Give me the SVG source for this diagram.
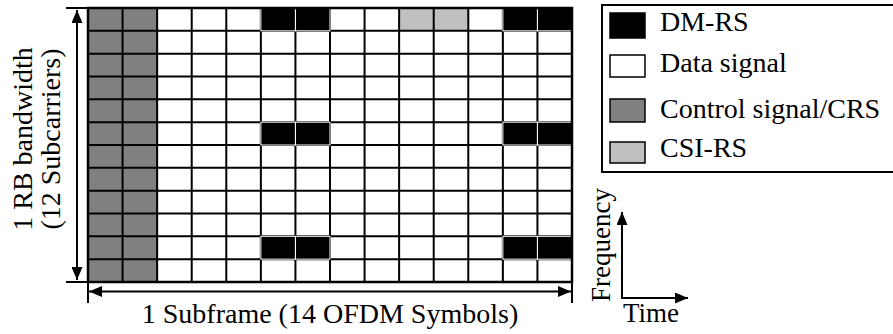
<svg xmlns="http://www.w3.org/2000/svg" width="893" height="334" viewBox="0 0 893 334">
<defs>
<style>
.ln{stroke:#000;stroke-width:2;fill:none}
.dm{fill:#000;stroke:#fff;stroke-width:1}
.ctl{fill:#808080}
.csi{fill:#c0c0c0}
</style>
<marker id="ah" markerUnits="userSpaceOnUse" markerWidth="13" markerHeight="11" refX="13" refY="5.5" orient="auto-start-reverse">
<path d="M0,0 L13,5.5 L0,11 z" fill="#000"/>
</marker>
</defs>
<rect width="893" height="334" fill="#fff"/>
<g id="grid">
<rect x="88" y="8" width="484" height="274" fill="#fff"/>
<rect class="ctl" x="88" y="8" width="69.14" height="274"/>
<rect class="csi" x="399.14" y="8" width="69.15" height="22.83"/>
<path class="ln" d="M122.57,8V282M157.14,8V282M191.71,8V282M226.29,8V282M260.86,8V282M295.43,8V282M330,8V282M364.57,8V282M399.14,8V282M433.71,8V282M468.29,8V282M502.86,8V282M537.43,8V282M88,30.83H572M88,53.67H572M88,76.5H572M88,99.33H572M88,122.17H572M88,145H572M88,167.83H572M88,190.67H572M88,213.5H572M88,236.33H572M88,259.17H572"/>
<rect class="dm" x="260.86" y="8" width="34.57" height="22.83"/>
<rect class="dm" x="295.43" y="8" width="34.57" height="22.83"/>
<rect class="dm" x="502.86" y="8" width="34.57" height="22.83"/>
<rect class="dm" x="537.43" y="8" width="34.57" height="22.83"/>
<rect class="dm" x="260.86" y="122.17" width="34.57" height="22.83"/>
<rect class="dm" x="295.43" y="122.17" width="34.57" height="22.83"/>
<rect class="dm" x="502.86" y="122.17" width="34.57" height="22.83"/>
<rect class="dm" x="537.43" y="122.17" width="34.57" height="22.83"/>
<rect class="dm" x="260.86" y="236.33" width="34.57" height="22.84"/>
<rect class="dm" x="295.43" y="236.33" width="34.57" height="22.84"/>
<rect class="dm" x="502.86" y="236.33" width="34.57" height="22.84"/>
<rect class="dm" x="537.43" y="236.33" width="34.57" height="22.84"/>
<rect x="88" y="8" width="484" height="274" fill="none" stroke="#000" stroke-width="2.5"/>
</g>
<g id="connectors">
<path class="ln" d="M66,8H88M66,282H88M88,282V303M572,282V303"/>
<path class="ln" d="M77,10V280" marker-start="url(#ah)" marker-end="url(#ah)"/>
<path class="ln" d="M89,291.5H571" marker-start="url(#ah)" marker-end="url(#ah)"/>
<path class="ln" d="M622,298V212" marker-end="url(#ah)"/>
<path class="ln" d="M621,298H688" marker-end="url(#ah)"/>
</g>
<g id="labels">
<text transform="translate(32,139) rotate(-90)" text-anchor="middle" font-family="Liberation Serif, serif" font-size="28">1 RB bandwidth</text>
<text transform="translate(60,139) rotate(-90)" text-anchor="middle" font-family="Liberation Serif, serif" font-size="28">(12 Subcarriers)</text>
<text x="330" y="323" text-anchor="middle" font-family="Liberation Serif, serif" font-size="28">1 Subframe (14 OFDM Symbols)</text>
<text transform="translate(610,302) rotate(-90)" font-family="Liberation Serif, serif" font-size="27">Frequency</text>
<text x="623" y="322" font-family="Liberation Serif, serif" font-size="27">Time</text>
</g>
<g id="legend">
<rect x="602" y="5" width="300" height="167" fill="#fff" stroke="#000" stroke-width="2"/>
<g id="legend-dmrs"><rect x="610" y="13" width="35" height="25" fill="#000" stroke="#000" stroke-width="1.5"/><text x="660" y="31" font-family="Liberation Serif, serif" font-size="28">DM-RS</text></g>
<g id="legend-data"><rect x="610" y="55" width="35" height="22" fill="#fff" stroke="#000" stroke-width="1.5"/><text x="660" y="72" font-family="Liberation Serif, serif" font-size="28">Data signal</text></g>
<g id="legend-ctl"><rect x="610" y="99" width="35" height="23" fill="#808080" stroke="#000" stroke-width="1.5"/><text x="660" y="118" font-family="Liberation Serif, serif" font-size="28">Control signal/CRS</text></g>
<g id="legend-csi"><rect x="610" y="142" width="35" height="21" fill="#c0c0c0" stroke="#000" stroke-width="1.5"/><text x="660" y="157" font-family="Liberation Serif, serif" font-size="28">CSI-RS</text></g>
</g>
</svg>
